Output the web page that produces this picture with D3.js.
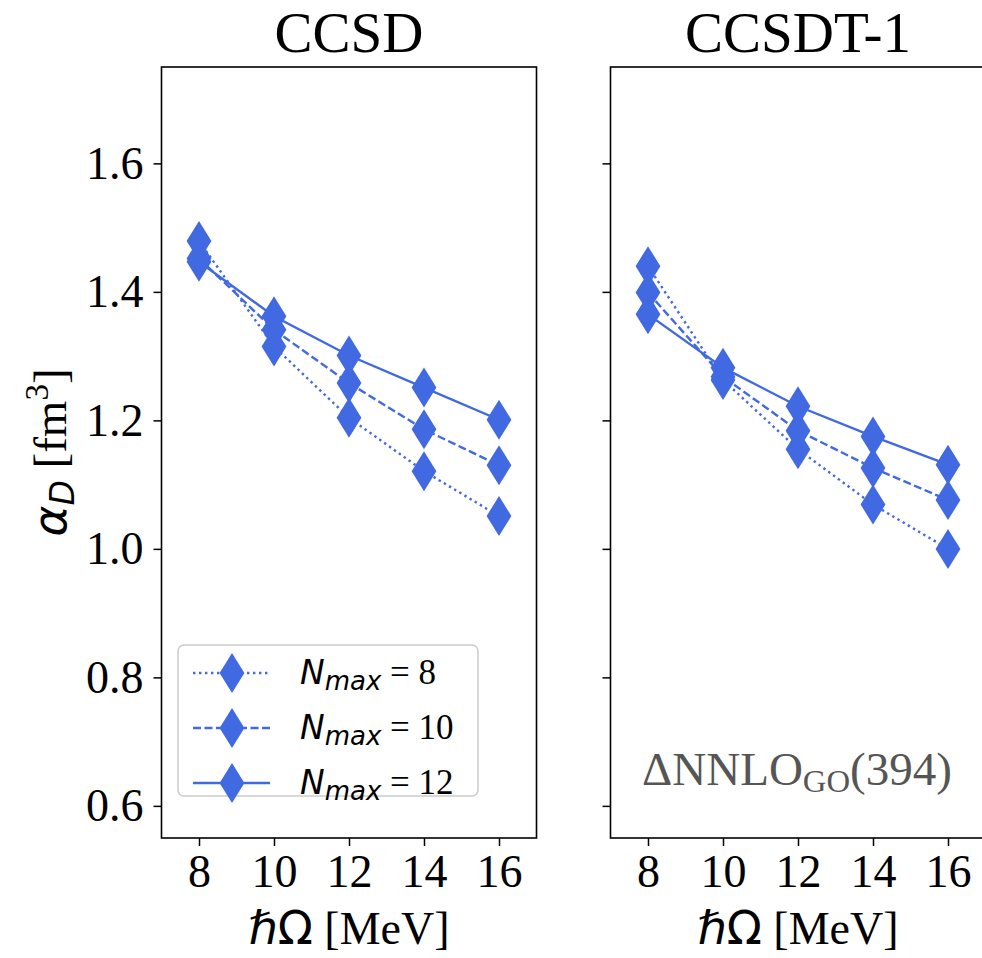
<!DOCTYPE html>
<html>
<head>
<meta charset="utf-8">
<script src="https://cdn.jsdelivr.net/npm/d3@7"></script>
<style>
  html, body { margin: 0; padding: 0; background: #fff; }
  svg { display: block; overflow: hidden; }
</style>
</head>
<body>
<svg id="chart" width="982" height="958"></svg>
<script>
// Oscillator frequencies (MeV)
const hbarOmega = [8, 10, 12, 14, 16];

// Dipole polarizability alpha_D (fm^3) for each model space size
const ccsdNmax8  = [1.479, 1.315, 1.204, 1.121, 1.051];
const ccsdNmax10 = [1.452, 1.341, 1.258, 1.186, 1.130];
const ccsdNmax12 = [1.447, 1.362, 1.301, 1.251, 1.201];

const ccsdt1Nmax8  = [1.440, 1.263, 1.155, 1.069, 1.000];
const ccsdt1Nmax10 = [1.399, 1.268, 1.184, 1.126, 1.076];
const ccsdt1Nmax12 = [1.365, 1.282, 1.222, 1.175, 1.131];

const nmaxValues = [8, 10, 12];
const panelTitles = ["CCSD", "CCSDT-1"];
const yTicks = [0.6, 0.8, 1.0, 1.2, 1.4, 1.6];
const xTicks = [8, 10, 12, 14, 16];
const interactionLabel = ["ΔNNLO", "GO", "(394)"];

const panels = [
  { title: panelTitles[0], series: [ccsdNmax8, ccsdNmax10, ccsdNmax12], left: 161.5, showYLabels: true, legend: true },
  { title: panelTitles[1], series: [ccsdt1Nmax8, ccsdt1Nmax10, ccsdt1Nmax12], left: 610.5, showYLabels: false, legend: false }
];

const color = "#4169e1";
const lineWidth = 2.4;
const dashes = ["2.4,3.6", "8,3.5", null];
const serif = "'Liberation Serif', 'Times New Roman', serif";
const sans = "'DejaVu Sans', sans-serif";

const plotTop = 67, plotBottom = 838, panelWidth = 375;

// matplotlib-style thin diamond
const thinDiamond = {
  draw(ctx, size) {
    const h = Math.sqrt(size);      // full height
    const w = h * 0.62;             // full width
    ctx.moveTo(0, -h / 2);
    ctx.lineTo(w / 2, 0);
    ctx.lineTo(0, h / 2);
    ctx.lineTo(-w / 2, 0);
    ctx.closePath();
  }
};
const markerPath = d3.symbol().type(thinDiamond).size(40 * 40)();

const svg = d3.select("#chart");

const y = d3.scaleLinear().domain([0.55, 1.75]).range([plotBottom, plotTop]);

panels.forEach(p => {
  const x = d3.scaleLinear().domain([7, 17]).range([p.left, p.left + panelWidth]);
  const g = svg.append("g");

  // data lines and markers
  p.series.forEach((vals, i) => {
    const pts = hbarOmega.map((h, k) => [h, vals[k]]);
    const line = d3.line().x(d => x(d[0])).y(d => y(d[1]));
    const path = g.append("path")
      .attr("d", line(pts))
      .attr("fill", "none")
      .attr("stroke", color)
      .attr("stroke-width", lineWidth);
    if (dashes[i]) path.attr("stroke-dasharray", dashes[i]);
    g.selectAll(null).data(pts).enter().append("path")
      .attr("d", markerPath)
      .attr("transform", d => `translate(${x(d[0])},${y(d[1])})`)
      .attr("fill", color);
  });

  // axes
  const xAxis = d3.axisBottom(x).tickValues(xTicks).tickSize(8).tickPadding(8).tickFormat(d3.format("d"));
  const gx = svg.append("g").attr("transform", `translate(0,${plotBottom})`).call(xAxis);
  gx.select(".domain").remove();
  gx.selectAll(".tick line").attr("stroke", "#000").attr("stroke-width", 1.5);
  gx.selectAll(".tick text").attr("font-family", serif).attr("font-size", 46).attr("fill", "#000");

  const yAxis = d3.axisLeft(y).tickValues(yTicks).tickSize(8).tickPadding(10)
    .tickFormat(p.showYLabels ? d3.format(".1f") : () => "");
  const gy = svg.append("g").attr("transform", `translate(${p.left},0)`).call(yAxis);
  gy.select(".domain").remove();
  gy.selectAll(".tick line").attr("stroke", "#000").attr("stroke-width", 1.5);
  gy.selectAll(".tick text").attr("font-family", serif).attr("font-size", 46).attr("fill", "#000");

  // frame
  svg.append("rect")
    .attr("x", p.left).attr("y", plotTop)
    .attr("width", panelWidth).attr("height", plotBottom - plotTop)
    .attr("fill", "none").attr("stroke", "#000").attr("stroke-width", 1.6);

  // title
  svg.append("text")
    .attr("x", p.left + panelWidth / 2).attr("y", 52)
    .attr("text-anchor", "middle")
    .attr("font-family", serif).attr("font-size", 57)
    .text(p.title);

  // x label
  const xl = svg.append("text")
    .attr("x", p.left + panelWidth / 2).attr("y", 944)
    .attr("text-anchor", "middle")
    .attr("font-size", 46);
  xl.append("tspan").attr("font-family", sans).attr("font-style", "italic").text("ℏ");
  xl.append("tspan").attr("font-family", sans).text("Ω");
  xl.append("tspan").attr("font-family", serif).text(" [MeV]");

  if (p.legend) {
    const lg = svg.append("g");
    lg.append("rect")
      .attr("x", 178).attr("y", 645).attr("width", 300).attr("height", 151)
      .attr("rx", 6).attr("fill", "#fff").attr("fill-opacity", 0.8)
      .attr("stroke", "#cccccc").attr("stroke-width", 1.5);
    const rowY = [673, 728, 783];
    nmaxValues.forEach((n, i) => {
      const ln = lg.append("line")
        .attr("x1", 193).attr("x2", 270).attr("y1", rowY[i]).attr("y2", rowY[i])
        .attr("stroke", color).attr("stroke-width", lineWidth);
      if (dashes[i]) ln.attr("stroke-dasharray", dashes[i]);
      lg.append("path").attr("d", markerPath)
        .attr("transform", `translate(232,${rowY[i]})`).attr("fill", color);
      const t = lg.append("text").attr("x", 300).attr("y", rowY[i] + 11);
      t.append("tspan").attr("font-family", sans).attr("font-style", "italic").attr("font-size", 33).text("N");
      t.append("tspan").attr("font-family", sans).attr("font-style", "italic")
        .attr("font-size", 26).attr("dy", 6).text("max");
      t.append("tspan").attr("font-family", serif).attr("font-size", 35).attr("dy", -6).text(" = " + n);
    });
  }

  if (!p.showYLabels) {
    const a = svg.append("text")
      .attr("x", 642).attr("y", 785)
      .attr("text-anchor", "start")
      .attr("font-family", serif).attr("font-size", 46).attr("fill", "#555555")
      .attr("textLength", 310).attr("lengthAdjust", "spacingAndGlyphs");
    a.append("tspan").text(interactionLabel[0]);
    a.append("tspan").attr("font-size", 32).attr("dy", 7).text(interactionLabel[1]);
    a.append("tspan").attr("dy", -7).text(interactionLabel[2]);
  }
});

// y label
const yl = svg.append("text")
  .attr("transform", `translate(66,${(plotTop + plotBottom) / 2}) rotate(-90)`)
  .attr("text-anchor", "middle")
  .attr("font-size", 47);
yl.append("tspan").attr("font-family", sans).attr("font-style", "italic").text("α");
yl.append("tspan").attr("font-family", sans).attr("font-style", "italic").attr("font-size", 33).attr("dy", 8).text("D");
yl.append("tspan").attr("font-family", serif).attr("dy", -8).text(" [fm");
yl.append("tspan").attr("font-family", serif).attr("font-size", 33).attr("dy", -18).text("3");
yl.append("tspan").attr("font-family", serif).attr("dy", 18).text("]");
</script>
</body>
</html>
